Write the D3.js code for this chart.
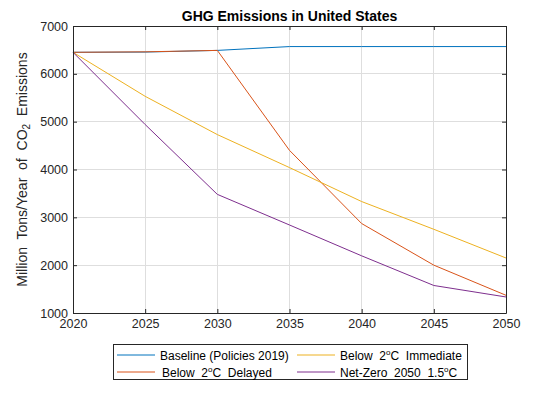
<!DOCTYPE html>
<html><head><meta charset="utf-8">
<script src="https://cdn.jsdelivr.net/npm/d3@7"></script>
<style>body{margin:0;background:#fff}svg{display:block;font-family:"Liberation Sans",Arial,sans-serif}</style>
</head><body><svg id="c" width="560" height="420"></svg>
<script>
const years = [2020, 2025, 2030, 2035, 2040, 2045, 2050];
const baseline = [6450, 6455, 6490, 6570, 6570, 6570, 6570];
const delayed = [6450, 6460, 6490, 4400, 2870, 2000, 1370];
const immediate = [6450, 5530, 4730, 4040, 3330, 2750, 2150];
const netzero = [6450, 4940, 3480, 2840, 2195, 1575, 1335];
const seriesNames = ["Baseline (Policies 2019)", "Below 2°C Delayed", "Below 2°C Immediate", "Net-Zero 2050 1.5°C"];
const colors = ["#0072BD", "#D95319", "#EDB120", "#7E2F8E"];
const xTicks = [2020, 2025, 2030, 2035, 2040, 2045, 2050];
const yTicks = [1000, 2000, 3000, 4000, 5000, 6000, 7000];

const svg = d3.select("#c");
const L = 73, R = 506, T = 26, B = 313;
const x = d3.scaleLinear().domain([2020, 2050]).range([L, R]);
const y = d3.scaleLinear().domain([1000, 7000]).range([B, T]);
const axisCol = "#262626";

// grid
const g = svg.append("g");
g.selectAll("line.vx").data(xTicks).join("line").attr("x1", d => x(d)).attr("x2", d => x(d)).attr("y1", T).attr("y2", B).attr("stroke", "#dedede").attr("stroke-width", 1).attr("shape-rendering","crispEdges");
g.selectAll("line.hy").data(yTicks).join("line").attr("y1", d => y(d)).attr("y2", d => y(d)).attr("x1", L).attr("x2", R).attr("stroke", "#dedede").attr("stroke-width", 1).attr("shape-rendering","crispEdges");

// lines
const data = [baseline, delayed, immediate, netzero];
const line = d3.line().x((d, i) => x(years[i])).y(d => y(d));
data.forEach((s, i) => {
  svg.append("path").datum(s).attr("d", line).attr("fill", "none").attr("stroke", colors[i]).attr("stroke-width", 1);
});

// axes
const xa = svg.append("g").attr("transform", `translate(0,${B})`).call(d3.axisBottom(x).tickValues(xTicks).tickFormat(d3.format("d")).tickSizeInner(-4).tickSizeOuter(0).tickPadding(6));
const ya = svg.append("g").attr("transform", `translate(${L},0)`).call(d3.axisLeft(y).tickValues(yTicks).tickFormat(d3.format("d")).tickSizeInner(-4).tickSizeOuter(0).tickPadding(5));
const xt = svg.append("g").attr("transform", `translate(0,${T})`).call(d3.axisTop(x).tickValues(xTicks).tickFormat("").tickSizeInner(-4).tickSizeOuter(0));
const yr = svg.append("g").attr("transform", `translate(${R},0)`).call(d3.axisRight(y).tickValues(yTicks).tickFormat("").tickSizeInner(-4).tickSizeOuter(0));
[xa, ya, xt, yr].forEach(a => {
  a.select(".domain").attr("stroke", axisCol);
  a.selectAll(".tick line").attr("stroke", axisCol);
  a.selectAll("text").attr("fill", axisCol).attr("font-size", 12.5).attr("font-family", "Liberation Sans, Arial, sans-serif");
});

// title
svg.append("text").attr("x", (L + R) / 2).attr("y", 21).attr("text-anchor", "middle").attr("font-weight", "bold").attr("font-size", 14).attr("fill", "#000").text("GHG Emissions in United States");

// y label
const yl = svg.append("text").attr("transform", `translate(27,${(T + B) / 2}) rotate(-90)`).attr("text-anchor", "middle").attr("font-size", 14).attr("fill", axisCol).attr("xml:space","preserve");
yl.append("tspan").text("Million  Tons/Year  of  CO");
yl.append("tspan").attr("font-size", 10).attr("dy", 3).text("2");
yl.append("tspan").attr("dy", -3).text("  Emissions");

// legend
const lg = svg.append("g");
lg.append("rect").attr("x", 113.5).attr("y", 344.5).attr("width", 354).attr("height", 35).attr("fill", "#fff").attr("stroke", axisCol).attr("stroke-width", 1);
const legPos = [[117, 355], [117, 372], [297, 355], [297, 372]];
const legLabels = [
  [["Baseline (Policies 2019)", 0]],
  [["Below  2", 0], ["o", -5], ["C  Delayed", 5]],
  [["Below  2", 0], ["o", -5], ["C  Immediate", 5]],
  [["Net-Zero  2050  1.5", 0], ["o", -5], ["C", 5]]
];
seriesNames.forEach((n, i) => {
  const [lx, ly] = legPos[i];
  lg.append("line").attr("x1", lx).attr("x2", lx + 38).attr("y1", ly).attr("y2", ly).attr("stroke", colors[i]).attr("stroke-width", 1);
  const t = lg.append("text").attr("x", lx + 43 + (i===1?2:0)).attr("y", ly + 4.5).attr("font-size", 12).attr("fill", "#000").attr("xml:space","preserve");
  legLabels[i].forEach(([s, dy]) => {
    const sp = t.append("tspan").attr("dy", dy).text(s);
    if (s === "o") sp.attr("font-size", 8);
  });
});
</script></body></html>
